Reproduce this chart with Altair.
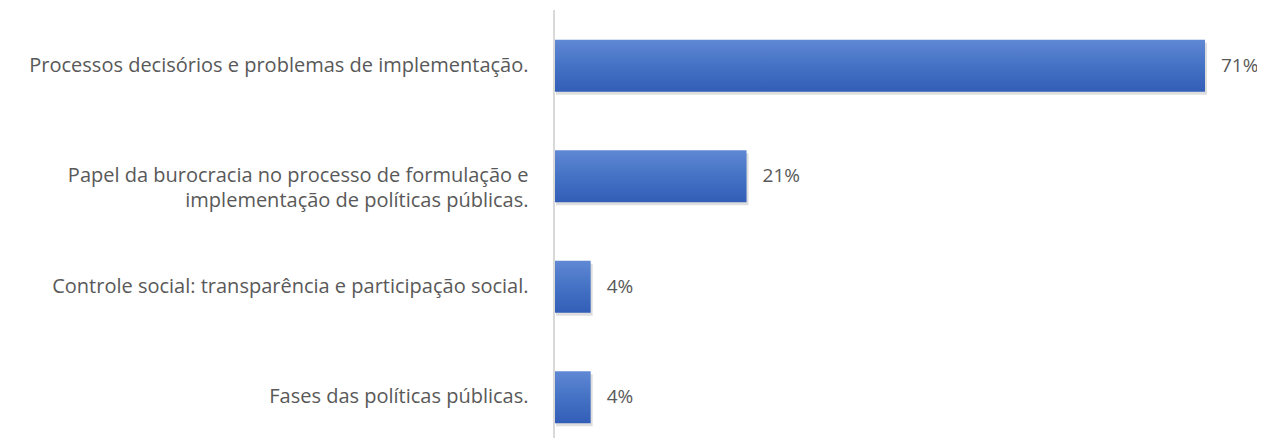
import altair as alt
import pandas as pd

categories = [
    "Processos decisórios e problemas de implementação.",
    "Papel da burocracia no processo de formulação e|implementação de políticas públicas.",
    "Controle social: transparência e participação social.",
    "Fases das políticas públicas.",
]
values = [71, 21, 4, 4]
labels = ["71%", "21%", "4%", "4%"]

df = pd.DataFrame({"cat": categories, "val": values, "lab": labels})

FONT = "Open Sans"
TXT = "#595959"
FS = 20

y_enc = alt.Y(
    "cat:N",
    sort=categories,
    title=None,
    scale=alt.Scale(range=[0, 443], paddingInner=0.53, paddingOuter=0.27),
    axis=alt.Axis(
        domain=False, ticks=False, grid=False, labelPadding=26,
        labelFont=FONT, labelFontSize=FS, labelColor=TXT, labelLimit=600,
        labelLineHeight=24.5,
        labelExpr="split(datum.label, '|')",
    ),
)
x_enc = alt.X("val:Q", scale=alt.Scale(domain=[0, 71], nice=False), axis=None)

base = alt.Chart(df)

shadow = base.mark_bar(color="#000000", opacity=0.13, xOffset=2, yOffset=3).encode(x=x_enc, y=y_enc)

bars = base.mark_bar(
    color=alt.Gradient(
        gradient="linear",
        stops=[
            alt.GradientStop(color="#6088D4", offset=0),
            alt.GradientStop(color="#4472C4", offset=0.5),
            alt.GradientStop(color="#335EB8", offset=1),
        ],
        x1=0, x2=0, y1=0, y2=1,
    )
).encode(x=x_enc, y=y_enc)

text = base.mark_text(
    align="left", baseline="middle", dx=16, font=FONT, fontSize=19, color=TXT
).encode(x=x_enc, y=y_enc, text="lab:N")

domain = base.mark_rule(color="#d9d9d9", strokeWidth=2).encode(
    x=alt.value(0), y=alt.value(0), y2=alt.value(428)
)

chart = (
    alt.layer(shadow, bars, domain, text)
    .properties(
        width=651,
        height=428,
        background="white",
        autosize=alt.AutoSizeParams(type="none"),
        padding={"left": 546, "top": 2, "right": 52, "bottom": 0},
    )
    .configure_view(strokeWidth=0, stroke=None)
)

chart.save("out.html", embed_options={"renderer": "svg", "actions": False})
